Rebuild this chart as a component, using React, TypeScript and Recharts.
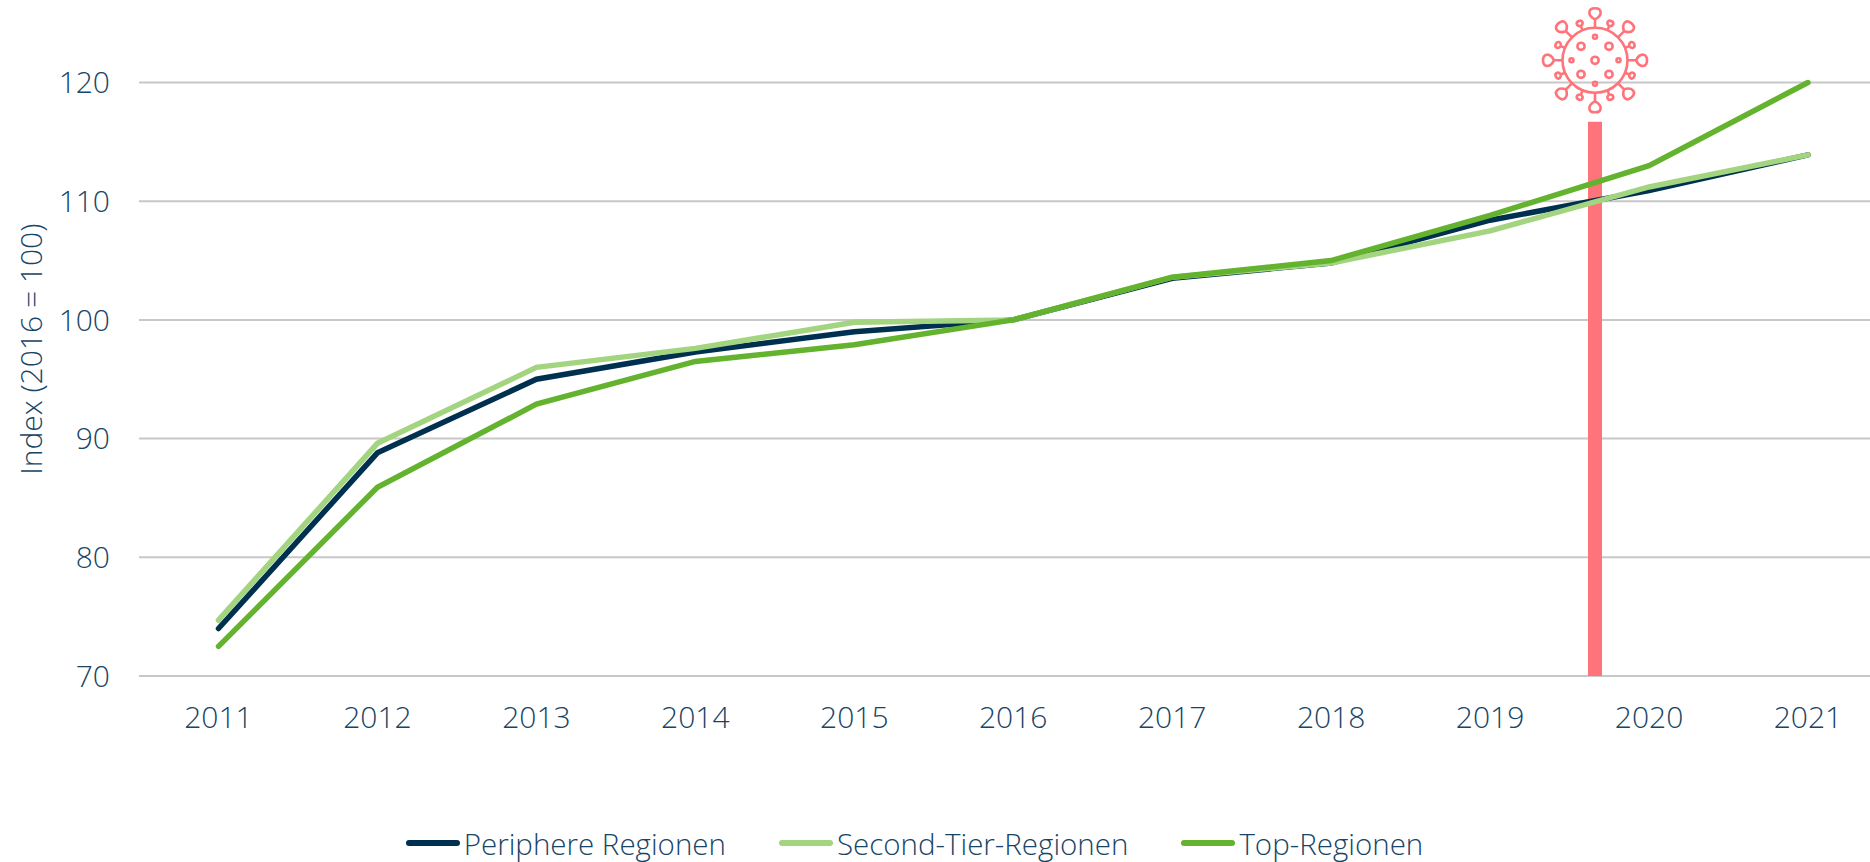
import { LineChart, Line, XAxis, YAxis, CartesianGrid, Legend, ReferenceLine, ReferenceDot } from 'recharts';

const years = [2011, 2012, 2013, 2014, 2015, 2016, 2017, 2018, 2019, 2020, 2021];
const periphere = [74, 88.8, 95, 97.3, 99, 100, 103.5, 104.8, 108.4, 110.9, 113.9];
const secondTier = [74.7, 89.6, 96, 97.6, 99.8, 100, 103.6, 104.8, 107.5, 111.2, 113.9];
const topRegionen = [72.5, 85.9, 92.9, 96.5, 97.9, 100, 103.6, 105, 108.8, 113, 120];
const yTicks = [70, 80, 90, 100, 110, 120];

// Beginn der Pandemie, zwischen den Jahresticks
const covidYear = 2019.66;
const covidBarTop = 116.7;
const covidIconY = 121.87;

const data = years.map((year, i) => ({
  year,
  periphere: periphere[i],
  secondTier: secondTier[i],
  top: topRegionen[i],
}));

const TEXT = '#174566';
const PINK = '#ff737b';
const FONT = '"Open Sans", sans-serif';

function VirusIcon({ cx, cy }: { cx?: number; cy?: number }) {
  const longSpikes = [0, 45, 90, 135, 180, 225, 270, 315];
  const shortSpikes = [22.5, 67.5, 112.5, 157.5, 202.5, 247.5, 292.5, 337.5];
  const rings = [
    [0, 0], [-14, -14], [14, -14], [-14, 14], [14, 14],
  ];
  const dots = [
    [0, -23.5], [0, 23.5], [-23.5, 0], [23.5, 0],
  ];
  return (
    <g transform={`translate(${cx},${cy})`} fill="none" stroke={PINK} strokeWidth={2.6}>
      <circle r={32.5} />
      {longSpikes.map((a) => (
        <g key={a} transform={`rotate(${a})`}>
          <path d="M0 -32 L0 -41 C-8 -45 -7 -52 0 -52 C7 -52 8 -45 0 -41" strokeLinejoin="round" />
        </g>
      ))}
      {shortSpikes.map((a) => (
        <g key={a} transform={`rotate(${a})`}>
          <path d="M0 -32 L0 -37 C-4.5 -38.5 -3.5 -42.5 0 -42.5 C3.5 -42.5 4.5 -38.5 0 -37" strokeLinejoin="round" />
        </g>
      ))}
      {rings.map(([x, y]) => (
        <circle key={`${x}_${y}`} cx={x} cy={y} r={3.6} />
      ))}
      {dots.map(([x, y]) => (
        <circle key={`${x}_${y}`} cx={x} cy={y} r={2} />
      ))}
    </g>
  );
}

function LegendRow({ payload }: any) {
  return (
    <div
      style={{
        height: 50,
        position: 'relative',
        top: 6,
        paddingRight: 41,
        display: 'flex',
        justifyContent: 'center',
        alignItems: 'center',
        gap: 53,
        fontFamily: FONT,
        fontWeight: 300,
        fontSize: 29.5,
        color: TEXT,
      }}
    >
      {(payload || []).map((item: any) => (
        <div key={item.value} style={{ display: 'flex', alignItems: 'center', gap: 4 }}>
          <span
            style={{
              width: 54,
              height: 6,
              borderRadius: 3,
              backgroundColor: item.color,
              display: 'inline-block',
            }}
          />
          <span>{item.value}</span>
        </div>
      ))}
    </div>
  );
}

export default function App() {
  const tick = { fill: TEXT, fontFamily: FONT, fontWeight: 300, fontSize: 30 };
  return (
    <div style={{ position: 'absolute', left: 0, top: 0, width: 1870, height: 862, overflow: 'hidden', background: '#fff' }}>
      <LineChart
        width={1870}
        height={862}
        data={data}
        margin={{ top: 82.5, right: 0, bottom: 0, left: 0 }}
      >
        <CartesianGrid vertical={false} stroke="#c8c8c8" strokeWidth={2} syncWithTicks />
        <XAxis
          dataKey="year"
          type="number"
          domain={[2011, 2021]}
          ticks={years}
          allowDecimals={false}
          padding={{ left: 79.5, right: 62 }}
          axisLine={false}
          tickLine={false}
          tickMargin={25}
          height={136}
          tick={tick}
        />
        <YAxis
          domain={[70, 120]}
          ticks={yTicks}
          width={139}
          axisLine={false}
          tickLine={false}
          tickMargin={23}
          tick={tick}
          label={{
            value: 'Index (2016 = 100)',
            angle: -90,
            position: 'insideLeft',
            dx: 26,
            dy: -30,
            style: { textAnchor: 'middle', fill: TEXT, fontFamily: FONT, fontWeight: 300, fontSize: 30 },
          }}
        />
        <ReferenceLine
          segment={[
            { x: covidYear, y: 70 },
            { x: covidYear, y: covidBarTop },
          ]}
          stroke={PINK}
          strokeWidth={14}
          ifOverflow="visible"
        />
        <ReferenceDot
          x={covidYear}
          y={covidIconY}
          ifOverflow="visible"
          shape={(props: any) => <VirusIcon cx={props.cx} cy={props.cy} />}
        />
        <Line dataKey="periphere" name="Periphere Regionen" stroke="#00304f" strokeWidth={5.5} dot={false} strokeLinecap="round" isAnimationActive={false} />
        <Line dataKey="secondTier" name="Second-Tier-Regionen" stroke="#a3d47f" strokeWidth={5.5} dot={false} strokeLinecap="round" isAnimationActive={false} />
        <Line dataKey="top" name="Top-Regionen" stroke="#63b32e" strokeWidth={5.5} dot={false} strokeLinecap="round" isAnimationActive={false} />
        <Legend verticalAlign="bottom" content={<LegendRow />} />
      </LineChart>
    </div>
  );
}
